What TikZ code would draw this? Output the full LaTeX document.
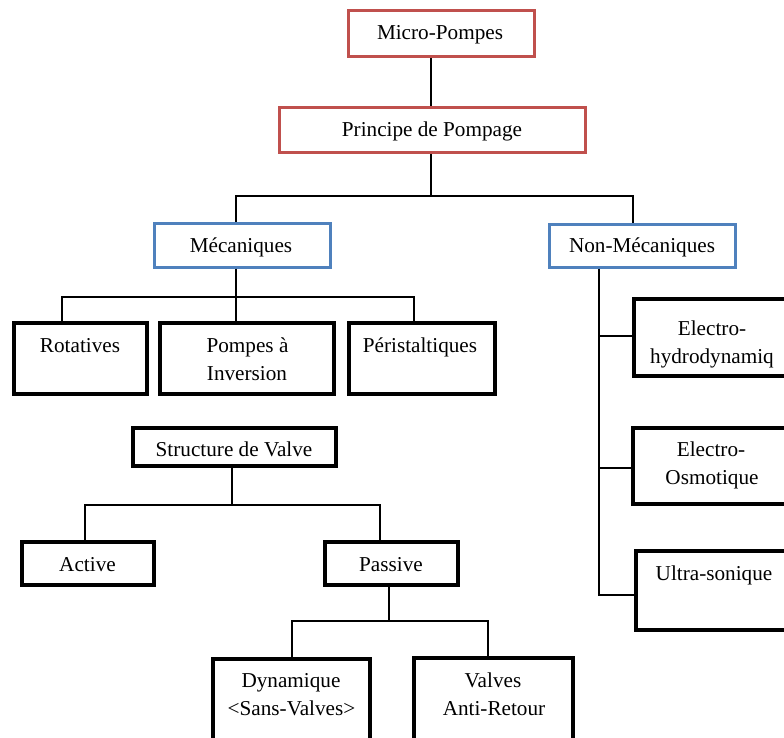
\documentclass[tikz,border=0pt]{standalone}
\usepackage{fontspec}
\setmainfont{Liberation Serif}
\definecolor{ored}{HTML}{C0504D}
\definecolor{oblue}{HTML}{4F81BD}
\begin{document}
\begin{tikzpicture}[x=1pt,y=-1pt,
  box/.style={draw, rectangle, inner sep=0pt},
  redbox/.style={box, draw=ored, line width=3pt},
  bluebox/.style={box, draw=oblue, line width=3pt},
  blkbox/.style={box, draw=black, line width=4pt},
  lbl/.style={anchor=base, inner sep=0pt, font=\fontsize{21.2}{28}\selectfont},
  conn/.style={draw=black, line width=1.3pt}]
\fill[white] (0,0) rectangle (784,738);
\useasboundingbox (0,0) rectangle (784,738);

% boxes
\node[redbox, minimum width=186pt, minimum height=46pt] (micro) at (441,34) {};
\node[redbox, minimum width=306pt, minimum height=45pt] (princ) at (432,130.5) {};
\node[bluebox, minimum width=176pt, minimum height=44pt] (meca) at (242,245) {};
\node[bluebox, minimum width=186pt, minimum height=43pt] (nonmeca) at (642,245.5) {};
\node[blkbox, minimum width=133pt, minimum height=71pt] (rot) at (80.5,358.5) {};
\node[blkbox, minimum width=174pt, minimum height=71pt] (pompe) at (247,358.5) {};
\node[blkbox, minimum width=146pt, minimum height=71pt] (peri) at (422,358.5) {};
\node[blkbox, minimum width=160pt, minimum height=77pt] (ehd) at (714,337.5) {};
\node[blkbox, minimum width=161pt, minimum height=76pt] (eos) at (713.5,466) {};
\node[blkbox, minimum width=158pt, minimum height=79pt] (us) at (715,590.5) {};
\node[blkbox, minimum width=203pt, minimum height=38pt] (struct) at (234.5,447) {};
\node[blkbox, minimum width=132pt, minimum height=43pt] (active) at (88,563.5) {};
\node[blkbox, minimum width=133pt, minimum height=43pt] (passive) at (391.5,563.5) {};
\node[blkbox, minimum width=157pt, minimum height=111pt] (dyn) at (291.5,714.5) {};
\node[blkbox, minimum width=159pt, minimum height=112pt] (valves) at (493.5,714) {};

% junction coordinates
\coordinate (jA) at (431,196);
\coordinate (jM) at (236,196);
\coordinate (jN) at (633,196);
\coordinate (jR) at (62,297);
\coordinate (jP) at (414,297);
\coordinate (jT) at (599,0);
\coordinate (jS) at (232,505);
\coordinate (jAc) at (85,505);
\coordinate (jPa) at (380,505);
\coordinate (jQ) at (389,621);
\coordinate (jD) at (292,621);
\coordinate (jV) at (488,621);

% connectors
\draw[conn] (jA |- micro.south) -- (jA |- princ.north);
\draw[conn] (jA |- princ.south) -- (jA);
\draw[conn] (jM |- meca.north) -- (jM) -- (jN) -- (jN |- nonmeca.north);
\draw[conn] (jM |- meca.south) -- (jM |- pompe.north);
\draw[conn] (jR |- rot.north) -- (jR) -- (jP) -- (jP |- peri.north);
\draw[conn] (jT |- nonmeca.south) -- ([yshift=-4.5pt]jT |- us.west) -- ([yshift=-4.5pt]us.west);
\draw[conn] ([yshift=1.5pt]jT |- ehd.west) -- ([yshift=1.5pt]ehd.west);
\draw[conn] ([yshift=-2pt]jT |- eos.west) -- ([yshift=-2pt]eos.west);
\draw[conn] (jS |- struct.south) -- (jS);
\draw[conn] (jAc |- active.north) -- (jAc) -- (jPa) -- (jPa |- passive.north);
\draw[conn] (jQ |- passive.south) -- (jQ);
\draw[conn] (jD |- dyn.north) -- (jD) -- (jV) -- (jV |- valves.north);

% labels
\node[lbl] (tmicro) at (440,40) {Micro-Pompes};
\node[lbl] (tprinc) at (432,137) {Principe de Pompage};
\node[lbl] (tmeca) at (241,252) {Mécaniques};
\node[lbl] (tnonmeca) at (642,252) {Non-Mécaniques};
\node[lbl] (trot) at (80,352) {Rotatives};
\node[lbl] (tpompe1) at (247.5,352) {Pompes à};
\node[lbl] (tpompe2) at (247,380) {Inversion};
\node[lbl] (tperi) at (420,352) {Péristaltiques};
\node[lbl] (tehd1) at (712,335) {Electro-};
\node[lbl] (tehd2) at (712,363) {hydrodynamiq};
\node[lbl] (teos1) at (711,456) {Electro-};
\node[lbl] (teos2) at (712,484) {Osmotique};
\node[lbl] (tus) at (714,580) {Ultra-sonique};
\node[lbl] (tstruct) at (234,456) {Structure de Valve};
\node[lbl] (tactive) at (87.5,571) {Active};
\node[lbl] (tpassive) at (391,571) {Passive};
\node[lbl] (tdyn1) at (291,687) {Dynamique};
\node[lbl] (tdyn2) at (291.5,715) {\textless Sans-Valves\textgreater};
\node[lbl] (tval1) at (493,687) {Valves};
\node[lbl] (tval2) at (494,715) {Anti-Retour};
\end{tikzpicture}
\end{document}
